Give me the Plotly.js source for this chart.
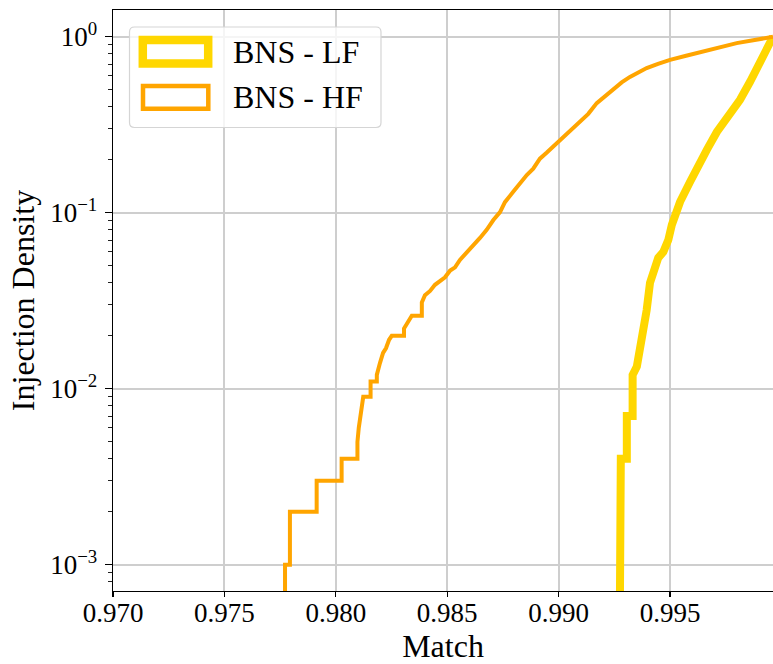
<!DOCTYPE html>
<html>
<head>
<meta charset="utf-8">
<script src="https://cdn.plot.ly/plotly-3.0.1.min.js"></script>
<style>
  html, body { margin: 0; padding: 0; background: #ffffff; }
  #chart { width: 773px; height: 664px; }
</style>
</head>
<body>
<div id="chart"></div>
<script>
// Cumulative fraction of injections recovered below a given match.
// Corners of the stair steps are listed explicitly; 1e-4 stands for "zero" (below the axis).

const lfLabel = "BNS - LF";
const lfMatch = [0.99271, 0.99271, 0.99279, 0.99279, 0.99306, 0.99306, 0.99332, 0.99332,
  0.99351, 0.99365, 0.99380, 0.99395, 0.99410, 0.99425, 0.99447, 0.99470, 0.99492,
  0.99508, 0.99522, 0.99545, 0.99590, 0.99627, 0.99665, 0.99710, 0.99760, 0.99814,
  0.99859, 0.99904, 0.99935, 0.99962, 0.99962];
const lfDensity = [0.0001, 0.002, 0.002, 0.004, 0.004, 0.007, 0.007, 0.012,
  0.0134, 0.0167, 0.0208, 0.028, 0.040, 0.047, 0.0555, 0.060, 0.070,
  0.0855, 0.0987, 0.1155, 0.150, 0.1875, 0.228, 0.288, 0.347, 0.439,
  0.555, 0.709, 0.833, 0.949, 1.000];

const hfLabel = "BNS - HF";
const hfMatch = [0.97772, 0.97772, 0.97794, 0.97794, 0.97914, 0.97914, 0.98026, 0.98026,
  0.98097, 0.98097, 0.98103, 0.98109, 0.98118, 0.98123, 0.98156, 0.98156, 0.98184,
  0.98184, 0.98198, 0.98212, 0.98225, 0.98239, 0.98251, 0.98306, 0.98306, 0.98324,
  0.98341, 0.98386, 0.98386, 0.98400, 0.98423, 0.98445, 0.98468, 0.98490, 0.98513,
  0.98535, 0.98557, 0.98580, 0.98602, 0.98632, 0.98647, 0.98677, 0.98707, 0.98737,
  0.98759, 0.98797, 0.98827, 0.98857, 0.98886, 0.98916, 0.98947, 0.98976, 0.99006,
  0.99036, 0.99066, 0.99096, 0.99133, 0.99171, 0.99208, 0.99246, 0.99283, 0.99320,
  0.99356, 0.99395, 0.99446, 0.99500, 0.99572, 0.99650, 0.99724, 0.99799, 0.99873,
  0.99949, 0.99962];
const hfDensity = [0.0001, 0.001, 0.001, 0.002, 0.002, 0.003, 0.003, 0.004,
  0.004, 0.005, 0.006, 0.007, 0.008, 0.009, 0.009, 0.011, 0.011,
  0.012, 0.014, 0.016, 0.017, 0.019, 0.020, 0.020, 0.022, 0.024,
  0.026, 0.026, 0.031, 0.034, 0.036, 0.039, 0.041, 0.043, 0.047,
  0.049, 0.054, 0.058, 0.062, 0.068, 0.072, 0.080, 0.091, 0.101,
  0.115, 0.132, 0.148, 0.164, 0.178, 0.203, 0.220, 0.238, 0.262,
  0.281, 0.304, 0.333, 0.365, 0.420, 0.462, 0.506, 0.551, 0.592,
  0.628, 0.664, 0.702, 0.740, 0.780, 0.825, 0.872, 0.921, 0.955,
  0.994, 1.000];

const xTickVals = [0.970, 0.975, 0.980, 0.985, 0.990, 0.995];
const xTickText = ["0.970", "0.975", "0.980", "0.985", "0.990", "0.995"];
const yTickVals = [0.001, 0.01, 0.1, 1];
const yTickText = ["10<sup>−3</sup>", "10<sup>−2</sup>", "10<sup>−1</sup>", "10<sup>0</sup>"];

const GOLD = "#FFD700";
const ORANGE = "#FFA500";
const FONT = "Liberation Serif, 'DejaVu Serif', serif";

// plot area in page pixels
const W = 773, H = 664;
const L = 113, R = 773, T = 10, B = 591;
const px = v => (v - L) / (R - L);
const py = v => (B - v) / (B - T);

const yRange = [Math.log10(7.1e-4), Math.log10(1.42)];

// minor log ticks: 2..9 x 10^k
const yMinorVals = [];
for (let k = -4; k <= 0; k++) {
  for (let m = 2; m <= 9; m++) yMinorVals.push(m * Math.pow(10, k));
}

const traces = [
  { x: lfMatch, y: lfDensity, name: lfLabel, type: "scatter", mode: "lines",
    line: { color: GOLD, width: 8 }, showlegend: false },
  { x: hfMatch, y: hfDensity, name: hfLabel, type: "scatter", mode: "lines",
    line: { color: ORANGE, width: 4 }, showlegend: false }
];

// rounded legend frame
function roundRect(x0, y0, x1, y1, r) {
  const a = px(x0), b = px(x1), c = py(y0), d = py(y1);
  const rx = r / (R - L), ry = r / (B - T);
  return `M ${a + rx} ${c} L ${b - rx} ${c} Q ${b} ${c} ${b} ${c - ry} ` +
         `L ${b} ${d + ry} Q ${b} ${d} ${b - rx} ${d} L ${a + rx} ${d} ` +
         `Q ${a} ${d} ${a} ${d + ry} L ${a} ${c - ry} Q ${a} ${c} ${a + rx} ${c} Z`;
}

const shapes = [
  { type: "path", xref: "paper", yref: "paper", path: roundRect(129.5, 27, 381, 127.5, 5),
    fillcolor: "rgba(255,255,255,0.8)", line: { color: "#d5d5d5", width: 1.2 } },
  { type: "rect", xref: "paper", yref: "paper",
    x0: px(142.8), x1: px(208.2), y0: py(40), y1: py(63.5),
    line: { color: GOLD, width: 8.5 }, fillcolor: "rgba(0,0,0,0)" },
  { type: "rect", xref: "paper", yref: "paper",
    x0: px(143), x1: px(208.3), y0: py(86), y1: py(108.7),
    line: { color: ORANGE, width: 4.5 }, fillcolor: "rgba(0,0,0,0)" }
];

const annotations = [
  { text: lfLabel, xref: "paper", yref: "paper", x: px(231), y: py(52),
    xanchor: "left", yanchor: "middle", showarrow: false,
    font: { family: FONT, size: 32, color: "#000" } },
  { text: hfLabel, xref: "paper", yref: "paper", x: px(231), y: py(97),
    xanchor: "left", yanchor: "middle", showarrow: false,
    font: { family: FONT, size: 32, color: "#000" } }
];

const layout = {
  width: W, height: H,
  margin: { l: L, r: W - R, t: T, b: H - B, pad: 0 },
  paper_bgcolor: "#ffffff", plot_bgcolor: "#ffffff",
  font: { family: FONT, color: "#000" },
  showlegend: false,
  xaxis: {
    range: [0.970, 0.99962], tickvals: xTickVals, ticktext: xTickText,
    tickfont: { family: FONT, size: 27, color: "#000" },
    ticks: "outside", ticklen: 5, tickwidth: 1.2, tickcolor: "#000",
    ticklabelstandoff: -8,
    showline: true, linecolor: "#000", linewidth: 1.3, mirror: true,
    showgrid: true, gridcolor: "#cecece", gridwidth: 2, zeroline: false,
    title: { text: "Match", font: { family: FONT, size: 32, color: "#000" }, standoff: 4 },
    automargin: false
  },
  yaxis: {
    type: "log", range: yRange,
    tickvals: yTickVals, ticktext: yTickText,
    tickfont: { family: FONT, size: 27, color: "#000" },
    ticks: "outside", ticklen: 7, tickwidth: 1.2, tickcolor: "#000",
    ticklabelstandoff: 2,
    minor: { tickmode: "array", tickvals: yMinorVals, ticks: "outside",
      ticklen: 4, tickwidth: 1, tickcolor: "#222", showgrid: false },
    showline: true, linecolor: "#000", linewidth: 1.3, mirror: false,
    showgrid: true, gridcolor: "#cecece", gridwidth: 2, zeroline: false,
    title: { text: "Injection Density", font: { family: FONT, size: 32, color: "#000" }, standoff: 6 },
    automargin: false
  },
  shapes: shapes,
  annotations: annotations
};

Plotly.newPlot("chart", traces, layout, { staticPlot: true, displayModeBar: false });
</script>
</body>
</html>
